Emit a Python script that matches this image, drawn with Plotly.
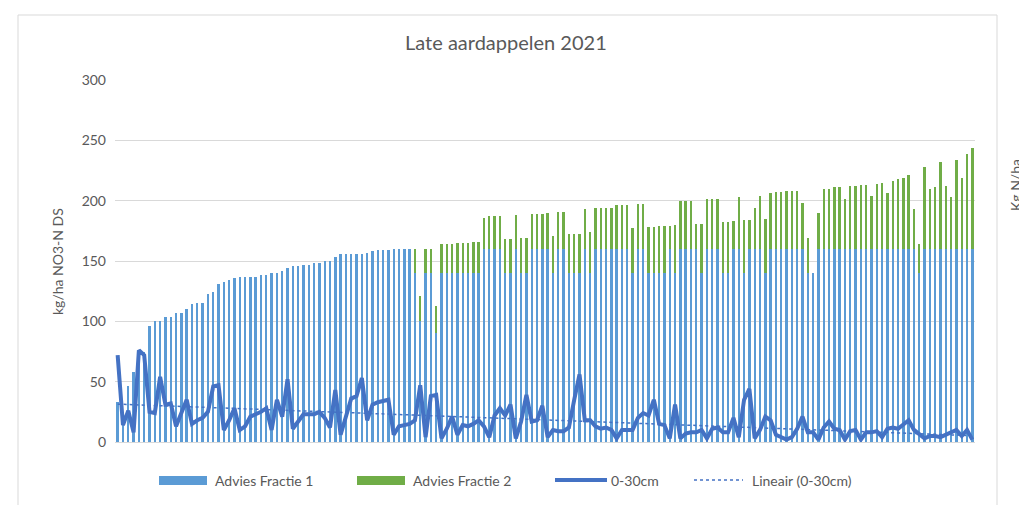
import numpy as np
import plotly.graph_objects as go

# ---------------- data ----------------
advies_fractie_1 = [
    33, 20, 46, 58, 70, 75, 96, 100, 100, 104, 104, 107, 107, 110, 114, 115, 115, 123, 124, 131,
    133, 134, 136, 137, 137, 137, 137, 138, 138, 140, 140, 142, 144, 146, 146, 147, 147, 148, 148, 150,
    150, 153, 156, 156, 156, 156, 156, 157, 158, 159, 159, 159, 160, 160, 160, 160,
    140, 100, 140, 140, 90, 140, 140, 140, 140, 140, 140, 140, 140, 160, 160, 160, 160, 140, 140, 160,
    140, 140, 160, 160, 160, 160,
    140, 160, 160, 140, 140, 140, 160, 140, 160, 160, 160, 160, 160, 160, 160, 140, 160, 160, 140, 140,
    140, 140, 160, 140, 160, 160, 160, 160,
    140, 160, 160, 160, 140, 140, 160, 160, 140, 160, 160, 160, 140, 160, 160, 160, 160, 160, 160, 160,
    140, 140, 160, 160, 160, 160, 160,
    160, 160, 160, 160, 160, 160, 160, 160, 160, 160, 160, 160, 160, 160, 140, 160, 160, 160, 160, 160,
    160, 160, 160, 160, 160,
]
advies_fractie_2 = [0] * 56 + [
    20, 21, 20, 20, 23, 24, 24, 24, 25, 25, 25, 26, 26, 26, 27, 27, 27, 28, 28, 28,
    29, 29, 29, 29, 29, 30,
    31, 31, 31, 32, 32, 32, 33, 34, 34, 34, 34, 34, 36, 36, 36, 37, 37, 37, 38, 38,
    39, 39, 19, 40, 40, 40, 40, 21,
    41, 41, 41, 41, 42, 42, 23, 43, 44, 24, 34, 44, 45, 46, 47, 47, 48, 48, 48, 38,
    29, 0, 30, 50, 50, 51, 51,
    41, 52, 52, 53, 53, 44, 54, 55, 46, 56, 58, 59, 61, 33, 24, 68, 50, 51, 72, 52,
    43, 74, 59, 79, 84,
]
nitraat_0_30cm = [
    72, 14, 26, 8, 76, 72, 25, 24, 54, 31, 32, 13, 24, 35, 15, 18, 20, 25, 46, 47,
    10, 18, 28, 10, 13, 21, 23, 25, 28, 10, 35, 21, 52, 11, 17, 23, 23, 23, 25, 20, 12,
    43, 6, 20, 36, 38, 53, 18, 31, 33, 34, 35, 6, 13, 14, 15, 18, 47, 4, 38, 39,
    3, 11, 21, 6, 14, 13, 15, 18, 13, 4, 22, 28, 22, 31, 3, 17, 39, 17, 18, 30,
    4, 10, 9, 9, 12, 35, 56, 18, 18, 13, 11, 12, 10, 3, 10, 10, 10, 20, 24, 22,
    35, 15, 14, 3, 31, 3, 7, 8, 8, 10, 3, 11, 12, 8, 8, 20, 4, 35, 44, 3, 10,
    21, 18, 6, 4, 2, 4, 11, 21, 8, 8, 2, 12, 17, 11, 10, 2, 9, 10, 2, 8,
    8, 9, 4, 11, 12, 11, 14, 18, 10, 7, 3, 5, 5, 4, 6, 8, 10, 5, 10, 2,
]
y_ticks = [0, 50, 100, 150, 200, 250, 300]

title_text = "Late aardappelen 2021"
y_title = "kg/ha NO3-N DS"
y2_title = "Kg N/ha"
legend_names = ["Advies Fractie 1", "Advies Fractie 2", "0-30cm", "Lineair (0-30cm)"]

# ---------------- figure ----------------
OFF = 8                      # page body margin
W, H = 1027 - OFF, 505 - OFF
PL, PR, PT, PB = 115, 975, 80, 442   # plot area in page pixels
ML, MR, MT, MB = PL - OFF, W - (PR - OFF), PT - OFF, H - (PB - OFF)
PW, PH = PR - PL, PB - PT

n = len(advies_fractie_1)
x = np.arange(1, n + 1)
coef = np.polyfit(x, nitraat_0_30cm, 1)
trend = np.polyval(coef, x)

C1, C2, CL = "#5B9BD5", "#70AD47", "#4472C4"
GRID = "#d9d9d9"
TXT = "#595959"
FONT = "Lato, 'Open Sans', sans-serif"

fig = go.Figure()
fig.add_trace(go.Bar(x=x, y=advies_fractie_1, name=legend_names[0], marker_color=C1,
                     marker_line_width=0))
fig.add_trace(go.Bar(x=x, y=advies_fractie_2, name=legend_names[1], marker_color=C2,
                     marker_line_width=0))
fig.add_trace(go.Scatter(x=x, y=nitraat_0_30cm, name=legend_names[2], mode="lines",
                         line=dict(color=CL, width=4)))
fig.add_trace(go.Scatter(x=x, y=trend, name=legend_names[3], mode="lines",
                         line=dict(color=CL, width=1.5, dash="dot")))


def px(xp):
    return (xp - PL) / PW


def py(yp):
    return (PB - yp) / PH


shapes = [
    dict(type="rect", xref="paper", yref="paper", x0=px(18), x1=px(997), y0=py(520), y1=py(15),
         line=dict(color=GRID, width=1), fillcolor="rgba(0,0,0,0)", layer="below"),
]
annotations = [
    dict(text=title_text, xref="paper", yref="paper", x=px(506), y=py(42), showarrow=False,
         font=dict(size=20, color=TXT, family=FONT), xanchor="center", yanchor="middle"),
    dict(text=y_title, xref="paper", yref="paper", x=px(58), y=py(262), showarrow=False,
         textangle=-90, font=dict(size=14, color=TXT, family=FONT), xanchor="center", yanchor="middle"),
    dict(text=y2_title, xref="paper", yref="paper", x=px(1015), y=py(185), showarrow=False,
         textangle=-90, font=dict(size=14, color=TXT, family=FONT), xanchor="center", yanchor="middle"),
]

ly = 480
leg = [
    ("rect", C1, 159, 207, 213, legend_names[0]),
    ("rect", C2, 357, 405, 411, legend_names[1]),
    ("line", CL, 555, 607, 609, legend_names[2]),
    ("dot", CL, 694, 743, 750, legend_names[3]),
]
for kind, col, x0, x1, tx, label in leg:
    if kind == "rect":
        shapes.append(dict(type="rect", xref="paper", yref="paper", x0=px(x0), x1=px(x1),
                           y0=py(ly + 5), y1=py(ly - 4), fillcolor=col, line=dict(width=0)))
    elif kind == "line":
        shapes.append(dict(type="line", xref="paper", yref="paper", x0=px(x0), x1=px(x1),
                           y0=py(ly), y1=py(ly), line=dict(color=col, width=4)))
    else:
        shapes.append(dict(type="line", xref="paper", yref="paper", x0=px(x0), x1=px(x1),
                           y0=py(ly), y1=py(ly), line=dict(color=col, width=1.5, dash="dot")))
    annotations.append(dict(text=label, xref="paper", yref="paper", x=px(tx), y=py(ly),
                            showarrow=False, xanchor="left", yanchor="middle",
                            font=dict(size=14, color=TXT, family=FONT)))

fig.update_layout(
    width=W, height=H,
    margin=dict(l=ML, r=MR, t=MT, b=MB),
    paper_bgcolor="white", plot_bgcolor="white",
    barmode="stack", bargap=0.55,
    showlegend=False,
    font=dict(family=FONT, color=TXT),
    xaxis=dict(range=[0.5, n + 0.5], showticklabels=False, showgrid=False, zeroline=False,
               showline=True, linecolor=GRID, linewidth=1, ticks=""),
    yaxis=dict(range=[0, 300], tickvals=y_ticks, showgrid=True, gridcolor=GRID, gridwidth=1,
               zeroline=False, showline=False, ticks="", ticklabelstandoff=8,
               tickfont=dict(size=14, color=TXT, family=FONT)),
    shapes=shapes,
    annotations=annotations,
)

fig.write_html("out.html")
